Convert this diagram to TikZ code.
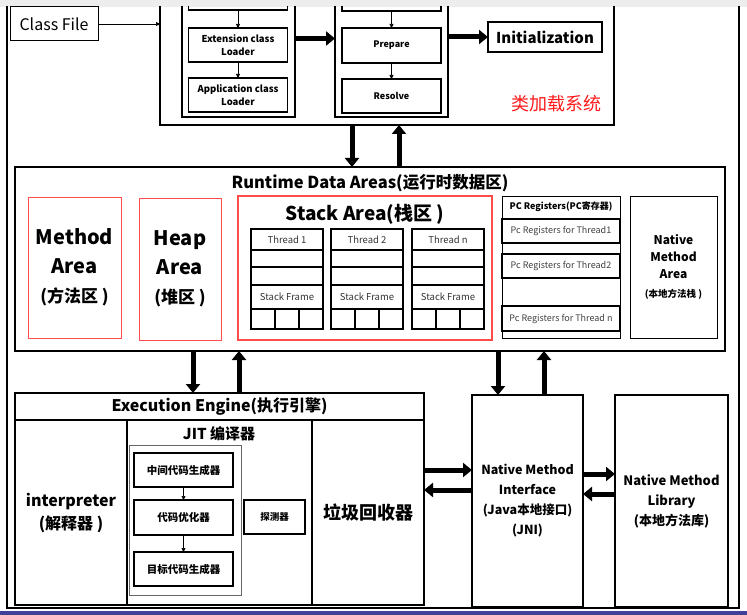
\documentclass[tikz,border=0pt]{standalone}
\usepackage{fontspec}
\setmainfont{Noto Sans CJK SC}
\usepackage{tikz}
\usetikzlibrary{arrows.meta}
\usetikzlibrary{positioning}
\tikzstyle{heavybox}=[draw,line width=2pt,inner sep=0pt,outer sep=0pt,align=center]
\tikzstyle{lightbox}=[draw,line width=1.1pt,inner sep=0pt,outer sep=0pt,align=center]
\tikzstyle{bigarrow}=[line width=5pt,-{Triangle[length=9pt,width=14pt]}]

\begin{document}
\begin{tikzpicture}[
  x=1pt,y=-1pt,
  redbox/.style={draw=area red,line width=1pt,inner sep=0pt,align=center},
  small arrow/.style={line width=0.7pt,-{Triangle[length=4pt,width=4pt]}},
  cell/.style={lightbox,line width=1.6pt,minimum width=72pt,font=\fontsize{9.5}{11}\selectfont\color{black!80}},
  small cell/.style={cell,minimum width=24pt,minimum height=20pt},
  pcrow/.style={lightbox,line width=1.8pt,minimum width=118pt,font=\fontsize{9}{10}\selectfont\color{black!75}},
  stepbox/.style={lightbox,minimum width=99pt,font=\fontsize{9}{11}\selectfont\bfseries},
]
\colorlet{area red}{red!70}
\colorlet{label red}{red!90}
\useasboundingbox (0,0) rectangle (747,615);
\fill[black!7] (0,0) rectangle (747,7);
\fill[black!30!blue!50!gray] (0,611) rectangle (747,615);

\begin{scope}
\clip (0,7) rectangle (747,610);
\node[heavybox,line width=2.5pt,minimum width=732pt,minimum height=638pt] (frame) at (373,289) {};

% class loader subsystem
\node[lightbox,line width=1pt,minimum width=88pt,minimum height=34pt,font=\fontsize{16}{18}\selectfont] (classfile) at (54,24) {Class File};
\node[heavybox,minimum width=454pt,minimum height=165pt] (loadsys) at (387,42.5) {};
\node[lightbox,minimum width=113pt,minimum height=157pt] (loaders) at (238.5,38.5) {};
\node[stepbox,minimum height=40pt] (boot) at (238,-10) {};
\node[stepbox,minimum height=34pt,font=\fontsize{9.5}{13}\selectfont\bfseries] (ext) at (238,45) {Extension class\\Loader};
\node[stepbox,minimum height=34pt,font=\fontsize{9.5}{13}\selectfont\bfseries] (app) at (238,95) {Application class\\Loader};
\node[lightbox,minimum width=113pt,minimum height=157pt] (link) at (391.5,38.5) {};
\node[stepbox,minimum height=41pt] (verify) at (391.5,-9.5) {};
\node[stepbox,minimum height=35pt] (prepare) at (391.5,45.5) {Prepare};
\node[stepbox,minimum height=34pt] (resolve) at (391.5,96) {Resolve};
\node[lightbox,minimum width=114pt,minimum height=30pt,font=\fontsize{15}{18}\selectfont\bfseries] (init) at (545,37) {Initialization};
\node[text=label red,font=\fontsize{18}{20}\selectfont] (subsys) at (556,104) {类加载系统};

\draw[small arrow] (classfile) -- (classfile -| loadsys.west);
\draw[small arrow] (boot) -- (ext);
\draw[small arrow] (ext) -- (app);
\draw[small arrow] (verify) -- (prepare);
\draw[small arrow] (prepare) -- (resolve);
\draw[bigarrow] (loaders) -- (link);
\draw[bigarrow] (link.east |- init) -- (init);

% runtime data areas
\node[heavybox,minimum width=710pt,minimum height=184pt] (runtime) at (370,259) {};
\node[font=\fontsize{16.5}{18}\selectfont\bfseries] (rtitle) at (370,183) {Runtime Data Areas(运行时数据区)};
\node[redbox,minimum width=93pt,minimum height=141pt,font=\fontsize{20}{29}\selectfont\bfseries] (method) at (74.5,267.5)
  {Method\\Area\\{\fontsize{17}{18}\selectfont(方法区 )}};
\node[redbox,minimum width=82pt,minimum height=142pt,font=\fontsize{20}{29}\selectfont\bfseries] (heap) at (180,269)
  {Heap\\Area\\{\fontsize{17}{18}\selectfont(堆区 )}};
\node[redbox,line width=2pt,minimum width=254pt,minimum height=144pt] (stack) at (365,268) {};
\node[font=\fontsize{19}{22}\selectfont\bfseries] (stitle) at (365,214) {Stack Area(栈区 )};
\foreach \x/\n/\t in {251/1/Thread 1,331/2/Thread 2,412/n/Thread n}{
  \node[cell,minimum height=21pt] (th\n) at (\x+36,239.5) {\t};
  \node[cell,minimum height=17pt,below=0pt of th\n] (ra\n) {};
  \node[cell,minimum height=18pt,below=0pt of ra\n] (rb\n) {};
  \node[cell,minimum height=24pt,below=0pt of rb\n] (sf\n) {Stack Frame};
  \node[small cell,anchor=north west] (ca\n) at (sf\n.south west) {};
  \node[small cell,right=0pt of ca\n] (cb\n) {};
  \node[small cell,right=0pt of cb\n] (cc\n) {};
}
\node[lightbox,line width=1pt,minimum width=118pt,minimum height=142pt] (pc) at (561,267) {};
\node[lightbox,line width=1pt,minimum width=118pt,minimum height=22pt,font=\fontsize{9}{10}\selectfont\bfseries] (pctitle) at (561,207) {PC Registers(PC寄存器)};
\node[pcrow,minimum height=24pt] (pc1) at (561,231) {Pc Registers for Thread1};
\node[pcrow,minimum height=24pt] (pc2) at (561,266) {Pc Registers for Thread2};
\node[pcrow,minimum height=25pt] (pcn) at (561,318.5) {Pc Registers for Thread n};
\node[lightbox,line width=1pt,minimum width=87pt,minimum height=142pt,font=\fontsize{12}{17}\selectfont\bfseries] (nma) at (673.5,267)
  {Native\\Method\\Area\\[2pt]{\fontsize{9.5}{12}\selectfont(本地方法栈 )}};

\draw[bigarrow] (352,0 |- loadsys.south) -- (352,0 |- runtime.north);
\draw[bigarrow] (399,0 |- runtime.north) -- (399,0 |- loadsys.south);

% execution engine
\node[heavybox,minimum width=409pt,minimum height=212pt] (exec) at (219.5,499) {};
\node[heavybox,minimum width=409pt,minimum height=27pt,font=\fontsize{16}{18}\selectfont\bfseries] (etitle) at (219.5,406.5) {Execution Engine(执行引擎)};
\node[heavybox,minimum width=112pt,minimum height=185pt,font=\fontsize{16}{23}\selectfont\bfseries] (interp) at (71,512.5) {interpreter\\(解释器 )};
\node[heavybox,minimum width=185pt,minimum height=185pt] (jit) at (219.5,512.5) {};
\node[font=\fontsize{15}{16}\selectfont\bfseries] (jtitle) at (219,434) {JIT 编译器};
\node[heavybox,minimum width=112pt,minimum height=185pt,font=\fontsize{18}{20}\selectfont\bfseries] (gc) at (368,512.5) {垃圾回收器};
\node[draw=black!60,line width=0.8pt,minimum width=112pt,minimum height=150pt] (jitbox) at (185,520) {};
\node[stepbox,minimum height=34pt,font=\fontsize{10.5}{12}\selectfont\bfseries] (mid) at (183.5,470) {中间代码生成器};
\node[stepbox,minimum height=35pt,font=\fontsize{10.5}{12}\selectfont\bfseries] (opt) at (183.5,517.5) {代码优化器};
\node[stepbox,minimum height=34pt,font=\fontsize{10.5}{12}\selectfont\bfseries] (tgt) at (183.5,569) {目标代码生成器};
\node[stepbox,minimum width=61pt,minimum height=34pt,font=\fontsize{9.5}{10}\selectfont\bfseries] (probe) at (274.5,517) {探测器};
\draw[small arrow] (mid) -- (opt);
\draw[small arrow] (opt) -- (tgt);

% native interface and library
\node[heavybox,minimum width=111pt,minimum height=212pt,font=\fontsize{12.5}{20}\selectfont\bfseries] (jni) at (527.5,501)
  {Native Method\\Interface\\(Java本地接口)\\(JNI)};
\node[heavybox,minimum width=113pt,minimum height=212pt,font=\fontsize{13}{20}\selectfont\bfseries] (nml) at (671.5,501)
  {Native Method\\Library\\(本地方法库)};

\draw[bigarrow] (193,0 |- runtime.south) -- (193,0 |- exec.north);
\draw[bigarrow] (239,0 |- exec.north) -- (239,0 |- runtime.south);
\draw[bigarrow] (498,0 |- runtime.south) -- (498,0 |- jni.north);
\draw[bigarrow] (544,0 |- jni.north) -- (544,0 |- runtime.south);
\draw[bigarrow] (exec.east |- 0,470) -- (jni.west |- 0,470);
\draw[bigarrow] (jni.west |- 0,490) -- (exec.east |- 0,490);
\draw[bigarrow] (jni.east |- 0,474) -- (nml.west |- 0,474);
\draw[bigarrow] (nml.west |- 0,494) -- (jni.east |- 0,494);
\end{scope}
\end{tikzpicture}
\end{document}
